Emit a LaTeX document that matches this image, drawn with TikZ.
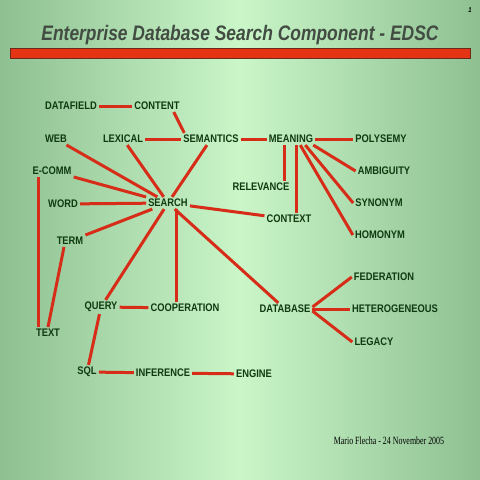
\documentclass[tikz,border=0pt]{standalone}
\usepackage{fontspec}
\newfontfamily\conceptfont{Liberation Sans}[FakeStretch=0.85]
\newfontfamily\titlefont{Liberation Sans}[FakeStretch=0.83]
\newfontfamily\notefont{Liberation Serif}[FakeStretch=0.72]
\definecolor{bgedge}{RGB}{142,192,146}
\definecolor{bgmid}{RGB}{202,246,200}
\definecolor{conceptgreen}{RGB}{16,58,18}
\definecolor{linkred}{RGB}{214,44,24}
\definecolor{barred}{RGB}{228,52,20}
\definecolor{barborder}{RGB}{110,40,28}
\definecolor{titlegray}{RGB}{66,76,66}

\begin{document}
\begin{tikzpicture}[
        x=1pt, y=-1pt,
        concept/.style={font=\conceptfont\bfseries\fontsize{11}{12}\selectfont, text=conceptgreen, inner sep=2pt},
        link/.style={draw=linkred, line width=3pt}
    ]
        % Background
        \useasboundingbox (0,0) rectangle (480,480);
        \shade[left color=bgedge, right color=bgedge, middle color=bgmid] (0,0) rectangle (480,480);

        % Title
        \node[font=\titlefont\bfseries\itshape\fontsize{21}{24}\selectfont, text=titlegray] (title) at (240,35) {Enterprise Database Search Component - EDSC};
        \node[font=\titlefont\bfseries\itshape\fontsize{7}{8}\selectfont, text=black] (page) at (470,10) {1};
        \draw[draw=barborder, fill=barred, line width=1pt] (10,48) rectangle (470,58);

        % Concepts
        \node[concept] (datafield) at (71,106) {DATAFIELD};
        \node[concept] (content) at (157,106) {CONTENT};
        \node[concept] (web) at (56,139) {WEB};
        \node[concept] (lexical) at (123,139) {LEXICAL};
        \node[concept] (semantics) at (211,139) {SEMANTICS};
        \node[concept] (meaning) at (291,139) {MEANING};
        \node[concept] (polysemy) at (381,139) {POLYSEMY};
        \node[concept] (ecomm) at (52,171) {E-COMM};
        \node[concept] (ambiguity) at (384,171) {AMBIGUITY};
        \node[concept] (relevance) at (261,187) {RELEVANCE};
        \node[concept] (word) at (63,204) {WORD};
        \node[concept] (search) at (168,203) {SEARCH};
        \node[concept] (synonym) at (379,203) {SYNONYM};
        \node[concept] (context) at (289,219) {CONTEXT};
        \node[concept] (homonym) at (380,235) {HOMONYM};
        \node[concept] (term) at (70,241) {TERM};
        \node[concept] (federation) at (384,277) {FEDERATION};
        \node[concept] (query) at (101,307) {QUERY};
        \node[concept] (cooperation) at (185,308) {COOPERATION};
        \node[concept] (database) at (285,309) {DATABASE};
        \node[concept] (heterogeneous) at (395,309) {HETEROGENEOUS};
        \node[concept] (text) at (48,333) {TEXT};
        \node[concept] (legacy) at (374,342) {LEGACY};
        \node[concept] (sql) at (87,372) {SQL};
        \node[concept] (inference) at (163,373) {INFERENCE};
        \node[concept] (engine) at (254,374) {ENGINE};

        % Footer
        \node[font=\notefont\fontsize{11}{12}\selectfont, text=black] (author) at (389,441) {Mario Flecha - 24 November 2005};

        % Links
        \draw[link] (datafield) -- (content);
        \draw[link] ([xshift=-8pt]content.south east) -- ([xshift=3pt]semantics.north west);
        \draw[link] (lexical) -- (semantics);
        \draw[link] (semantics) -- (meaning);
        \draw[link] (meaning) -- (polysemy);
        \draw[link] ([xshift=-7pt]meaning.south) -- ([xshift=-7pt]meaning.south |- relevance.north);
        \draw[link] ([xshift=5pt]meaning.south) -- ([xshift=5pt]meaning.south |- context.north);
        \draw[link] ([xshift=-2pt]meaning.south east) -- (ambiguity.west);
        \draw[link] ([xshift=-10pt]meaning.south east) -- (synonym.west);
        \draw[link] ([xshift=-15pt]meaning.south east) -- (homonym.west);
        \draw[link] (semantics) -- (search);
        \draw[link] (lexical) -- (search);
        \draw[link] (web) -- (search);
        \draw[link] (ecomm) -- (search);
        \draw[link] (word) -- (search);
        \draw[link] (term) -- (search);
        \draw[link] (search) -- (context);
        \draw[link] (search) -- (query);
        \draw[link] ([xshift=8pt]search.south) -- ([xshift=8pt]search.south |- cooperation.north);
        \draw[link] (search) -- (database);
        \draw[link] ([xshift=5pt]text.north west) -- ([xshift=5pt]text.north west |- ecomm.south);
        \draw[link] ([xshift=-6pt]term.south) -- (text.north);
        \draw[link] (query) -- (cooperation);
        \draw[link] (query) -- (sql);
        \draw[link] (sql) -- (inference);
        \draw[link] (inference) -- (engine);
        \draw[link] ([yshift=2pt]database.east) -- (federation.west);
        \draw[link] (database.east) -- (heterogeneous.west);
        \draw[link] ([yshift=-2pt]database.east) -- (legacy.west);
    \end{tikzpicture}
\end{document}
